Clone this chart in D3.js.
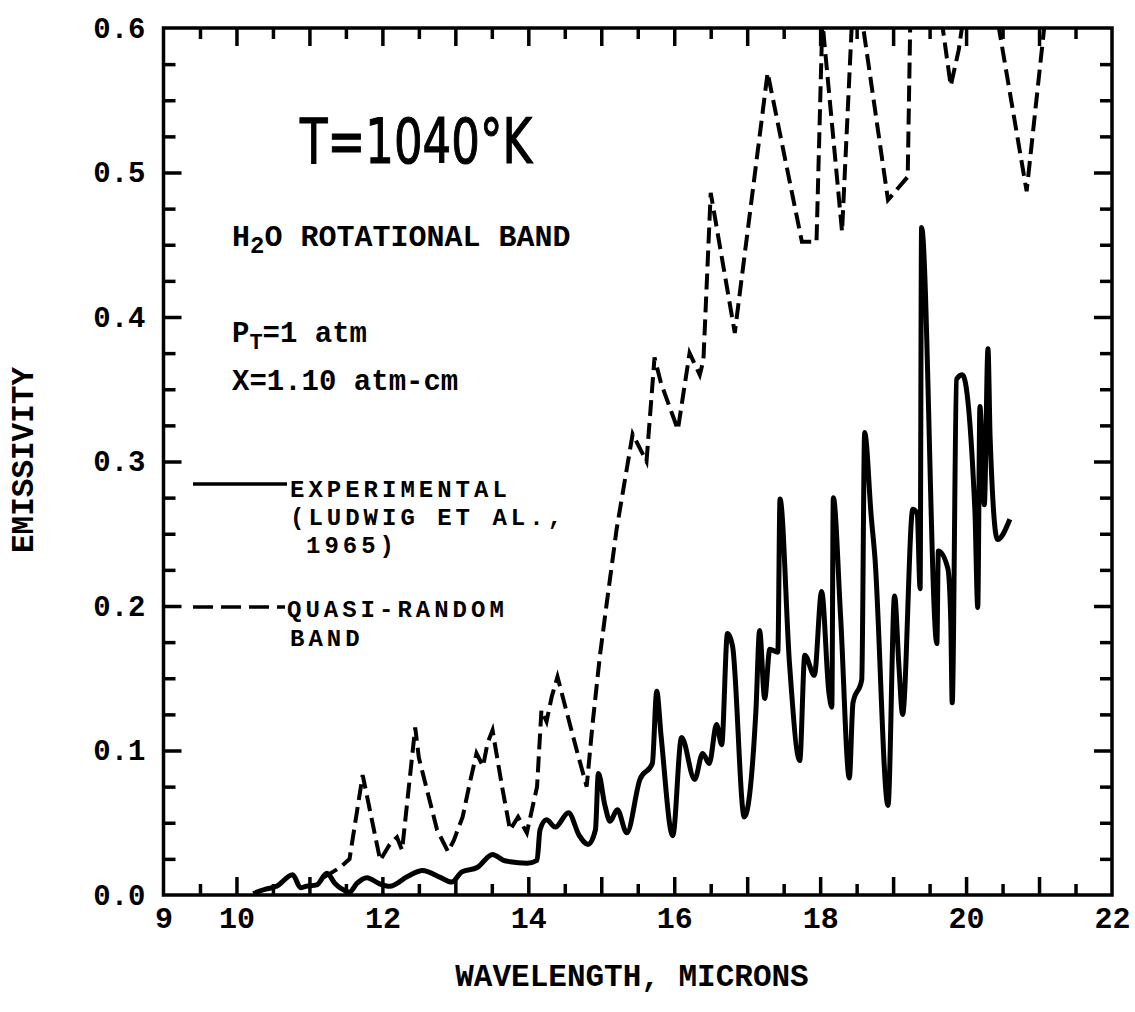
<!DOCTYPE html>
<html lang="en">

<head>
  <title>H2O rotational band emissivity</title>
  <meta charset="UTF-8">
  <script src="https://cdn.jsdelivr.net/npm/d3@7"></script>
  <style>
    body { margin: 0; background: #fff; }
    text { fill: #000; }
    .mono { font-family: 'Liberation Mono', 'DejaVu Sans Mono', monospace; font-weight: bold; }
  </style>
</head>

<body>
  <div id="box"></div>
  <script>
    // data
    const xTickLabels = [9, 10, 12, 14, 16, 18, 20, 22]
    const yTickLabels = [0, 0.1, 0.2, 0.3, 0.4, 0.5, 0.6]

    // experimental (Ludwig et al., 1965) - solid line
    const expWavelength = [10.23, 10.4, 10.55, 10.77, 10.88, 10.95, 11.1, 11.24, 11.35, 11.45, 11.55, 11.65, 11.79,
      11.95, 12.1, 12.35, 12.55, 12.8, 12.95, 13.09, 13.3, 13.51, 13.66, 13.75, 13.98, 14.12, 14.16, 14.25, 14.37,
      14.55, 14.7, 14.82, 14.92, 14.96, 15.05, 15.12, 15.22, 15.35, 15.53, 15.7, 15.76, 15.82, 15.98, 16.1, 16.28,
      16.39, 16.48, 16.58, 16.65, 16.73, 16.8, 16.96, 17.12, 17.17, 17.24, 17.31, 17.42, 17.45, 17.58, 17.72,
      17.79, 17.92, 18.02, 18.12, 18.16, 18.18, 18.28, 18.4, 18.45, 18.57, 18.61, 18.7, 18.75, 18.93, 19.02,
      19.08, 19.13, 19.27, 19.33, 19.37, 19.39, 19.6, 19.62, 19.75, 19.79, 19.81, 19.87, 19.95, 20.12, 20.16,
      20.19, 20.25, 20.3, 20.33, 20.43, 20.6]
    const expEmissivity = [0.001, 0.004, 0.006, 0.014, 0.005, 0.006, 0.007, 0.015, 0.008, 0.004, 0.002, 0.008, 0.012,
      0.008, 0.006, 0.013, 0.017, 0.012, 0.009, 0.016, 0.019, 0.028, 0.024, 0.023, 0.022, 0.024, 0.045, 0.052, 0.047,
      0.057, 0.041, 0.035, 0.045, 0.084, 0.062, 0.051, 0.059, 0.043, 0.08, 0.091, 0.141, 0.11, 0.041, 0.109, 0.08,
      0.098, 0.091, 0.118, 0.104, 0.181, 0.172, 0.054, 0.128, 0.183, 0.136, 0.17, 0.168, 0.274, 0.16, 0.093,
      0.166, 0.152, 0.21, 0.14, 0.13, 0.275, 0.193, 0.081, 0.133, 0.149, 0.32, 0.262, 0.234, 0.062, 0.207,
      0.158, 0.125, 0.267, 0.264, 0.212, 0.462, 0.174, 0.238, 0.226, 0.19, 0.133, 0.357, 0.36, 0.267, 0.199,
      0.338, 0.27, 0.378, 0.316, 0.246, 0.26]

    // quasi-random band model - dashed line
    const qrbWavelength = [11.19, 11.42, 11.55, 11.73, 11.97, 12.1, 12.2, 12.27, 12.45, 12.5, 12.6, 12.75, 12.9, 12.98,
      13.1, 13.2, 13.29, 13.38, 13.44, 13.51, 13.64, 13.75, 13.86, 13.98, 14.12, 14.18, 14.25, 14.32, 14.4, 14.55,
      14.67, 14.8, 14.88, 14.98, 15.07, 15.21, 15.35, 15.43, 15.62, 15.73, 15.82, 16.05, 16.21, 16.35, 16.4, 16.5,
      16.83, 17.28, 17.75, 17.95, 18.03, 18.3, 18.45, 18.52, 18.93, 19.2, 19.24, 19.45, 19.68, 19.79, 19.9, 20.0,
      20.2, 20.45, 20.83, 21.07, 21.2]
    const qrbEmissivity = [0.012, 0.019, 0.025, 0.083, 0.024, 0.035, 0.04, 0.031, 0.116, 0.095, 0.075, 0.045, 0.03, 0.038,
      0.054, 0.078, 0.098, 0.089, 0.105, 0.114, 0.075, 0.045, 0.054, 0.043, 0.075, 0.128, 0.12, 0.137, 0.151, 0.122,
      0.099, 0.075, 0.118, 0.165, 0.2, 0.253, 0.295, 0.319, 0.3, 0.372, 0.354, 0.322, 0.375, 0.36, 0.37, 0.486,
      0.389, 0.569, 0.452, 0.452, 0.605, 0.459, 0.62, 0.625, 0.481, 0.497, 0.62, 0.68, 0.6, 0.56, 0.585, 0.62,
      0.66, 0.6, 0.487, 0.6, 0.66]

    const width = 1135
    const height = 1012
    const margin = { left: 163.5, right: 23, top: 28, bottom: 117 }

    const svg = d3.select('#box').append('svg')
      .attr('width', width)
      .attr('height', height)

    const x = d3.scaleLinear().domain([9, 22]).range([margin.left, width - margin.right])
    const y = d3.scaleLinear().domain([0, 0.6]).range([height - margin.bottom, margin.top])

    const halfTicks = d3.range(9.5, 22, 1)
    const intTicks = d3.range(10, 22, 1)
    const minorY = d3.range(0.025, 0.6, 0.025).filter(v => Math.abs(v * 10 - Math.round(v * 10)) > 0.01)
    const majorY = d3.range(0.1, 0.6, 0.1)

    // clip for the curves
    svg.append('clipPath').attr('id', 'plot')
      .append('rect')
      .attr('x', x(9)).attr('y', y(0.6))
      .attr('width', x(22) - x(9)).attr('height', y(0) - y(0.6))

    // ticks pointing inward on all four sides
    function ticks(axis, transform) {
      svg.append('g')
        .attr('transform', transform)
        .call(axis)
        .call(g => g.select('.domain').remove())
        .call(g => g.selectAll('line').attr('stroke', '#000').attr('stroke-width', 3.5))
    }
    ticks(d3.axisBottom(x).tickValues(halfTicks).tickSize(-11).tickFormat(''), `translate(0,${y(0)})`)
    ticks(d3.axisBottom(x).tickValues(intTicks).tickSize(-18).tickFormat(''), `translate(0,${y(0)})`)
    ticks(d3.axisTop(x).tickValues(halfTicks).tickSize(-11).tickFormat(''), `translate(0,${y(0.6)})`)
    ticks(d3.axisTop(x).tickValues(intTicks).tickSize(-18).tickFormat(''), `translate(0,${y(0.6)})`)
    ticks(d3.axisLeft(y).tickValues(minorY).tickSize(-12).tickFormat(''), `translate(${x(9)},0)`)
    ticks(d3.axisLeft(y).tickValues(majorY).tickSize(-18).tickFormat(''), `translate(${x(9)},0)`)
    ticks(d3.axisRight(y).tickValues(minorY).tickSize(-12).tickFormat(''), `translate(${x(22)},0)`)
    ticks(d3.axisRight(y).tickValues(majorY).tickSize(-18).tickFormat(''), `translate(${x(22)},0)`)

    // tick labels
    svg.append('g')
      .attr('transform', `translate(0,${y(0)})`)
      .call(d3.axisBottom(x).tickValues(xTickLabels).tickSize(0).tickPadding(12).tickFormat(d3.format('d')))
      .call(g => g.select('.domain').remove())
      .selectAll('text')
      .attr('class', 'mono')
      .attr('font-size', 30)

    svg.append('g')
      .attr('transform', `translate(${x(9)},0)`)
      .call(d3.axisLeft(y).tickValues(yTickLabels).tickSize(0).tickPadding(18).tickFormat(d3.format('.1f')))
      .call(g => g.select('.domain').remove())
      .selectAll('text')
      .attr('class', 'mono')
      .attr('font-size', 29)

    // frame
    svg.append('rect')
      .attr('x', x(9)).attr('y', y(0.6))
      .attr('width', x(22) - x(9)).attr('height', y(0) - y(0.6))
      .attr('fill', 'none')
      .attr('stroke', '#000')
      .attr('stroke-width', 3.5)

    // curves
    const expData = expWavelength.map((w, i) => [w, expEmissivity[i]])
    const qrbData = qrbWavelength.map((w, i) => [w, qrbEmissivity[i]])

    const line = d3.line().x(d => x(d[0])).y(d => y(d[1]))

    svg.append('path')
      .datum(qrbData)
      .attr('clip-path', 'url(#plot)')
      .attr('d', line.curve(d3.curveLinear))
      .attr('fill', 'none')
      .attr('stroke', '#000')
      .attr('stroke-width', 4)
      .attr('stroke-dasharray', '16,7')

    svg.append('path')
      .datum(expData)
      .attr('clip-path', 'url(#plot)')
      .attr('d', line.curve(d3.curveMonotoneX))
      .attr('fill', 'none')
      .attr('stroke', '#000')
      .attr('stroke-width', 5)
      .attr('stroke-linejoin', 'round')

    // annotations
    svg.append('text')
      .attr('x', 300).attr('y', 163)
      .attr('font-family', 'DejaVu Sans, sans-serif')
      .attr('font-size', 62)
      .attr('stroke', '#000')
      .attr('stroke-width', 1.2)
      .attr('textLength', 232)
      .attr('lengthAdjust', 'spacingAndGlyphs')
      .text('T=1040°K')

    const h2o = svg.append('text').attr('class', 'mono').attr('x', 232).attr('y', 246).attr('font-size', 30)
    h2o.append('tspan').text('H')
    h2o.append('tspan').attr('dy', 7).attr('font-size', 24).text('2')
    h2o.append('tspan').attr('dy', -7).text('O ROTATIONAL BAND')

    const pt = svg.append('text').attr('class', 'mono').attr('x', 232).attr('y', 342).attr('font-size', 29)
    pt.append('tspan').text('P')
    pt.append('tspan').attr('dy', 7).attr('font-size', 22).text('T')
    pt.append('tspan').attr('dy', -7).text('=1 atm')

    svg.append('text').attr('class', 'mono').attr('x', 232).attr('y', 390).attr('font-size', 29)
      .text('X=1.10 atm-cm')

    // legend
    svg.append('line')
      .attr('x1', 193).attr('x2', 287).attr('y1', 484).attr('y2', 484)
      .attr('stroke', '#000').attr('stroke-width', 3.5)
    svg.append('line')
      .attr('x1', 193).attr('x2', 285).attr('y1', 607).attr('y2', 607)
      .attr('stroke', '#000').attr('stroke-width', 3.5)
      .attr('stroke-dasharray', '20,8')

    const legendLines = [
      ['EXPERIMENTAL', 290, 497],
      ['(LUDWIG ET AL.,', 290, 525],
      ['1965)', 306, 553],
      ['QUASI-RANDOM', 287, 617],
      ['BAND', 290, 646]
    ]
    svg.selectAll('.legend')
      .data(legendLines)
      .join('text')
      .attr('class', 'mono legend')
      .attr('x', d => d[1]).attr('y', d => d[2])
      .attr('font-size', 24)
      .attr('letter-spacing', 4)
      .text(d => d[0])

    // axis titles
    svg.append('text')
      .attr('class', 'mono')
      .attr('x', 632).attr('y', 986)
      .attr('text-anchor', 'middle')
      .attr('font-size', 31)
      .text('WAVELENGTH, MICRONS')

    svg.append('text')
      .attr('class', 'mono')
      .attr('transform', 'translate(33,460) rotate(-90)')
      .attr('text-anchor', 'middle')
      .attr('font-size', 31)
      .text('EMISSIVITY')
  </script>
</body>

</html>
